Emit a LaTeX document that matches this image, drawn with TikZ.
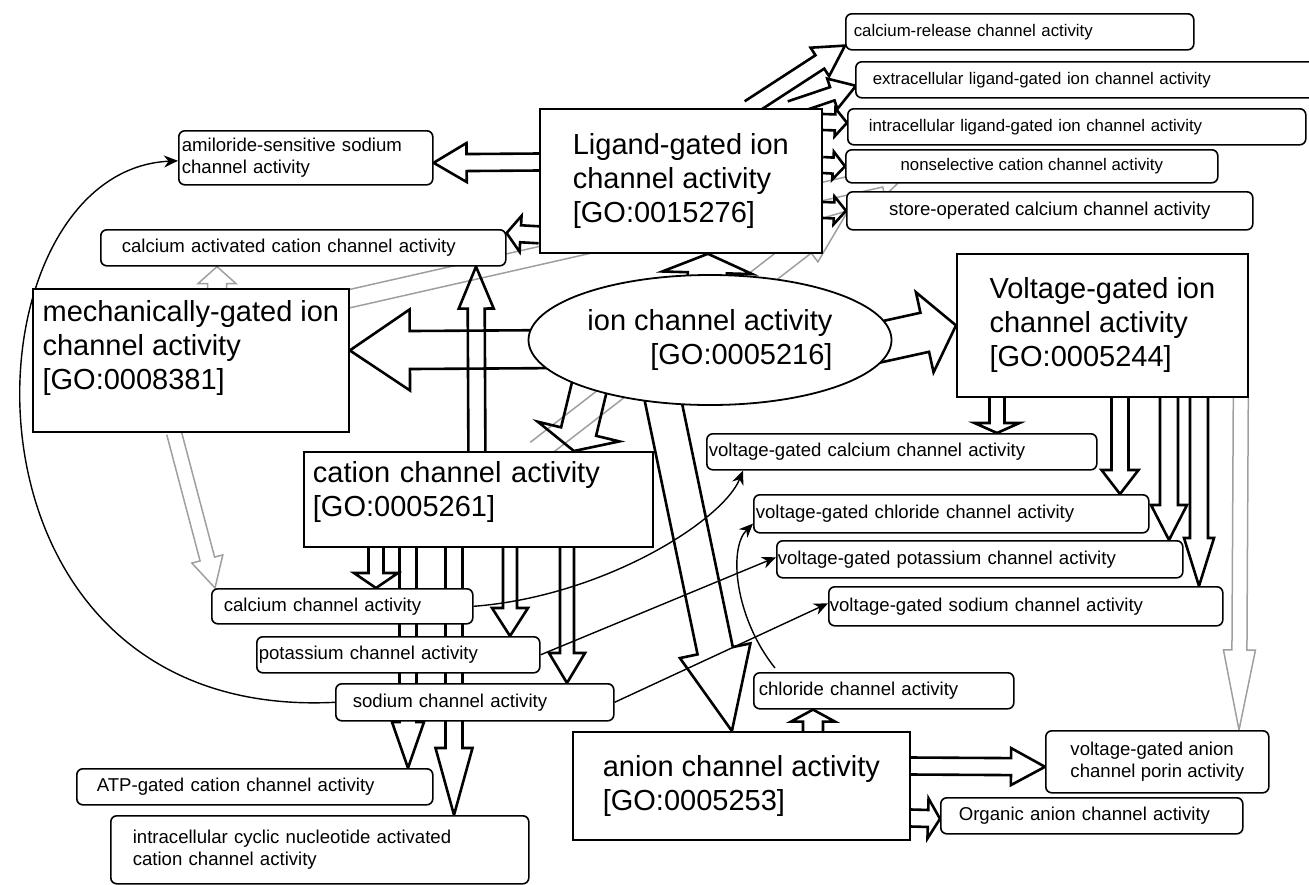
\documentclass[tikz,border=0pt]{standalone}
\usepackage{fontspec}
\setmainfont{Liberation Sans}
\usetikzlibrary{arrows.meta,shapes.geometric,calc,backgrounds}
\newcommand{\fntbig}{\fontsize{29}{34}\selectfont}
\newcommand{\fntlbl}{\fontsize{18.6}{21.5}\selectfont}
\newcommand{\fntsml}{\fontsize{16.8}{20}\selectfont}
% hollow block arrow: [style]{tail}{tip}{half shaft}{half head}{head length}
\newcommand{\blkarrow}[6][]{%
  \coordinate (bs) at #2;
  \coordinate (bt) at #3;
  \coordinate (bh) at ($(bt)!#6!(bs)$);
  \draw[barr,#1] ($(bs)!#4!90:(bt)$) -- ($(bh)!#4!90:(bt)$) -- ($(bh)!#5!90:(bt)$) -- (bt)
    -- ($(bh)!#5!-90:(bt)$) -- ($(bh)!#4!-90:(bt)$) -- ($(bs)!#4!-90:(bt)$);
}
\tikzset{
  bigbox/.style={draw, line width=1.8pt, fill=white, font=\fntbig, align=left, anchor=north west, inner sep=0pt},
  lbl/.style={draw, line width=1.6pt, rounded corners=6pt, fill=white, font=\fntlbl, align=left, anchor=north west, inner xsep=0pt, inner ysep=0pt},
  tlbl/.style={lbl, font=\fntsml},
  barr/.style={draw, line width=2.6pt, line join=miter},
  garr/.style={draw=gray!75, line width=1.5pt},
  link/.style={line width=1.4pt, -{Stealth[length=14pt,width=12pt]}}
}

\begin{document}
\begin{tikzpicture}[x=1pt,y=-1pt]
  \useasboundingbox (0,0) rectangle (1309,884);

  % main terms
  \node[draw, ellipse, line width=1.8pt, fill=white, font=\fntbig, align=right, minimum width=363, minimum height=130, inner sep=0pt] (ion) at (710,340) {ion channel activity\\{[GO:0005216]}};
  \node[bigbox, minimum width=282, minimum height=144] (lig) at (539,108) {Ligand-gated ion\\channel activity\\{[GO:0015276]}};
  \node[bigbox, minimum width=316, minimum height=143] (mech) at (32,288) {mechanically-gated ion\\channel activity\\{[GO:0008381]}\rule[-30pt]{0pt}{0pt}};
  \node[bigbox, inner xsep=9pt, text width=331, minimum height=95] (cat) at (303,451) {cation channel activity\\{[GO:0005261]}\rule[-20pt]{0pt}{0pt}};
  \node[bigbox, minimum width=291, minimum height=143] (volt) at (956,253) {Voltage-gated ion\\channel activity\\{[GO:0005244]}};
  \node[bigbox, minimum width=337, minimum height=108] (anion) at (572,731) {anion channel activity\\{[GO:0005253]}};

  % ligand-gated children
  \node[tlbl, inner xsep=8pt, text width=332, minimum height=36] (crel) at (845,13) {calcium-release channel activity};
  \node[tlbl, inner xsep=17pt, text width=440, minimum height=36] (extra) at (855,61) {extracellular ligand-gated ion channel activity};
  \node[tlbl, inner xsep=21pt, text width=416, minimum height=36] (intra) at (847,108) {intracellular ligand-gated ion channel activity};
  \node[tlbl, minimum width=372, minimum height=33] (nonsel) at (845,149) {nonselective cation channel activity};
  \node[lbl, minimum width=406, minimum height=38] (store) at (846,191) {store-operated calcium channel activity};
  \node[lbl, inner xsep=3pt, text width=248, minimum height=54] (amil) at (178,130) {amiloride-sensitive sodium\\channel activity};
  \node[lbl, inner xsep=21pt, text width=363, minimum height=36] (cact) at (100,229) {calcium activated cation channel activity};

  % voltage-gated children
  \node[lbl, inner xsep=2pt, text width=386, minimum height=36] (vgca) at (706,433) {voltage-gated calcium channel activity};
  \node[lbl, inner xsep=2pt, text width=391, minimum height=38] (vgcl) at (753,494) {voltage-gated chloride channel activity};
  \node[lbl, inner xsep=1pt, text width=404, minimum height=37] (vgk) at (776,540) {voltage-gated potassium channel activity};
  \node[lbl, inner xsep=1pt, text width=392, minimum height=39] (vgna) at (828,586) {voltage-gated sodium channel activity};
  \node[lbl, minimum width=223, minimum height=62] (vgan) at (1045,730) {voltage-gated anion\\channel porin activity};

  % anion children
  \node[lbl, inner xsep=5pt, text width=250, minimum height=36] (chl) at (753,672) {chloride channel activity};
  \node[lbl, inner xsep=18pt, text width=266, minimum height=36] (org) at (940,797) {Organic anion channel activity};

  % cation children
  \node[lbl, inner xsep=12pt, text width=237, minimum height=35] (calch) at (211,588) {calcium channel activity};
  \node[lbl, inner xsep=2pt, text width=279, minimum height=36] (potch) at (256,636) {potassium channel activity};
  \node[lbl, inner xsep=17pt, text width=244, minimum height=37] (sodch) at (335,683) {sodium channel activity};
  \node[lbl, inner xsep=20pt, text width=316, minimum height=36] (atp) at (76,768) {ATP-gated cation channel activity};
  \node[lbl, inner xsep=22pt, text width=374, minimum height=68] (cyc) at (110,815) {intracellular cyclic nucleotide activated\\cation channel activity};

  \begin{scope}[on background layer]
    % gray links
    \blkarrow[garr]{($(mech.north west)+(185,0)$)}{($(cact.south west)+(117,0)$)}{9.5pt}{19pt}{17pt}
    \blkarrow[garr]{($(mech.south west)+(142,0)$)}{($(calch.north west)+(4,0)$)}{7.5pt}{16pt}{30pt}
    \blkarrow[garr]{($(mech.north east)+(-6,12)$)}{($(nonsel.south west)+(65,-12)$)}{9pt}{18pt}{30pt}
    \blkarrow[garr]{($(cat.north west)+(234,0)$)}{($(store.west)+(2,0)$)}{11pt}{22pt}{55pt}
    \blkarrow[garr]{($(volt.south east)+(-8,0)$)}{($(vgan.north west)+(194,0)$)}{7.5pt}{16pt}{80pt}

    % from ion channel activity
    \blkarrow{($(ion.north)+(-3,10)$)}{($(lig.south)+(27,0)$)}{19.5pt}{45pt}{19pt}
    \blkarrow{($(ion.west)+(40,9)$)}{($(mech.east)+(0,-10)$)}{19pt}{40.5pt}{60pt}
    \blkarrow{($(ion.east)+(-30,6)$)}{(volt.west)}{20pt}{41pt}{32pt}
    \blkarrow{($(ion.south)+(-118,-30)$)}{($(cat.north)+(95.5,0)$)}{18pt}{42pt}{20pt}
    \blkarrow{($(ion.south)+(-50,-20)$)}{($(anion.north)+(-9.5,0)$)}{18pt}{36pt}{82pt}

    % from ligand-gated
    \blkarrow{($(lig.north west)+(210,0)$)}{($(crel.south west)+(0,-5)$)}{8pt}{17pt}{30pt}
    \blkarrow{($(lig.north west)+(251,0)$)}{($(extra.west)+(1,6)$)}{7pt}{16pt}{25pt}
    \blkarrow{($(lig.north east)+(0,14)$)}{($(intra.west)+(0,-4)$)}{8pt}{14pt}{12pt}
    \blkarrow{($(lig.north east)+(0,57)$)}{(nonsel.west)}{8pt}{14pt}{12pt}
    \blkarrow{($(lig.north east)+(0,102)$)}{(store.west)}{8pt}{14pt}{12pt}
    \blkarrow{($(lig.north west)+(0,54)$)}{($(amil.east)+(0,5)$)}{8.5pt}{19.5pt}{33pt}
    \blkarrow{($(lig.south west)+(0,-19)$)}{($(cact.north east)+(0,4)$)}{8.5pt}{18pt}{14pt}

    % from cation channel activity
    \blkarrow{($(cat.north)+(-1.5,0)$)}{($(cact.south west)+(376,0)$)}{8.5pt}{17.5pt}{42pt}
    \blkarrow{($(cat.south west)+(73,0)$)}{($(calch.north west)+(165,0)$)}{7.5pt}{22pt}{15pt}
    \blkarrow{($(cat.south west)+(105,0)$)}{($(atp.north west)+(332,0)$)}{8.5pt}{16pt}{46pt}
    \blkarrow{($(cat.south west)+(151,0)$)}{($(cyc.north west)+(344,0)$)}{8.5pt}{18.5pt}{67pt}
    \blkarrow{($(cat.south west)+(207,0)$)}{($(potch.north west)+(254,0)$)}{7pt}{18pt}{28pt}
    \blkarrow{($(cat.south west)+(264,0)$)}{($(sodch.north west)+(232,0)$)}{7pt}{18pt}{30pt}

    % from voltage-gated
    \blkarrow{($(volt.south west)+(41,0)$)}{($(vgca.north west)+(291,0)$)}{7.5pt}{22.5pt}{10pt}
    \blkarrow{($(volt.south west)+(164,0)$)}{($(vgcl.north west)+(367,0)$)}{8.5pt}{18.5pt}{24pt}
    \blkarrow{($(volt.south west)+(213,0)$)}{($(vgk.north west)+(393,0)$)}{9pt}{18pt}{35pt}
    \blkarrow{($(volt.south west)+(243,0)$)}{($(vgna.north west)+(371,0)$)}{9pt}{15pt}{48pt}

    % from anion channel activity
    \blkarrow{($(anion.north west)+(241,0)$)}{($(chl.south west)+(60,0)$)}{10pt}{22pt}{12pt}
    \blkarrow{($(anion.north east)+(0,35)$)}{($(vgan.west)+(0,5)$)}{8.5pt}{18.5pt}{34pt}
    \blkarrow{($(anion.north east)+(0,87)$)}{($(org.west)+(0,3)$)}{8.5pt}{20pt}{12pt}

    % thin links
    \draw[link] (calch.east) .. controls +(130,-10) and +(-20,50) .. ($(vgca.south west)+(37,0)$);
    \draw[link] (potch.east) -- ($(vgk.west)+(0,-2)$);
    \draw[link] (sodch.east) -- ($(vgna.west)+(0,-3)$);
    \draw[link] (sodch.west) .. controls +(-400,20) and +(-220,10) .. ($(amil.west)+(0,3)$);
    \draw[link] ($(chl.north west)+(22,-4)$) .. controls +(-40,-50) and +(-25,25) .. ($(vgcl.south west)+(0,-10)$);
  \end{scope}
\end{tikzpicture}
\end{document}
